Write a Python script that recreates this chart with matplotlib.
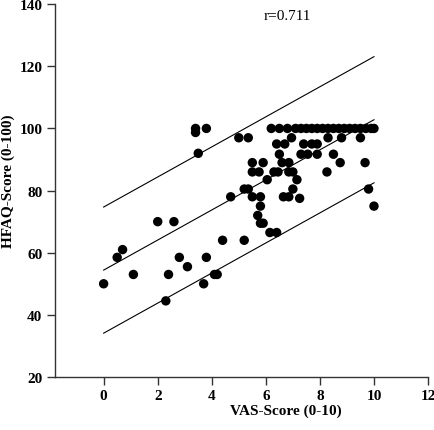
import numpy as np
import matplotlib
matplotlib.use("Agg")
import matplotlib.pyplot as plt

# VAS score vs HFAQ score
vas = [
    0.0, 0.5, 0.7, 1.1, 2.0, 2.3, 2.4, 2.6, 2.8, 3.1, 3.4, 3.4, 3.5, 3.7, 3.8,
    3.8, 4.1, 4.2, 4.4, 4.7, 5.0, 5.2, 5.2, 5.35, 5.35, 5.5, 5.5, 5.5, 5.7,
    5.75, 5.8, 5.8, 5.8, 5.9, 5.9, 6.05, 6.15, 6.2, 6.3, 6.4, 6.4, 6.5, 6.45,
    6.5, 6.6, 6.65, 6.7, 6.8, 6.85, 6.85, 6.85, 6.95, 7.0, 7.0, 7.15, 7.1,
    7.25, 7.3, 7.3, 7.4, 7.5, 7.55, 7.7, 7.7, 7.9, 7.9, 7.9, 8.1, 8.26, 8.3,
    8.3, 8.5, 8.5, 8.7, 8.75, 8.8, 8.9, 9.1, 9.3, 9.5, 9.5, 9.67, 9.7, 9.8,
    9.9, 10.0, 10.0,
]
hfaq = [
    50, 58.5, 61, 53, 70, 44.5, 53, 70, 58.5, 55.5, 100, 98.7, 92, 50, 100,
    58.5, 53, 53, 64, 78, 97, 64, 80.5, 80.5, 97, 89, 86, 78, 72, 86,
    75, 78, 69.5, 89, 69.5, 83.5, 66.5, 100, 86, 66.5, 95, 100, 86,
    91.7, 89, 78, 95, 100, 86, 78, 89, 97, 86, 80.5, 83.5, 100,
    77.5, 91.7, 100, 95, 100, 91.7, 95, 100, 91.7, 95, 100, 100, 86, 100,
    97, 100, 91.7, 100, 89, 97, 100, 100, 100, 100, 97, 89, 100, 80.5,
    100, 100, 75,
]

# regression line and prediction band
intercept = 54.4
slope = 4.84
band = 20.3
fit_range = [0, 10]
r_text = "r=0.711"

plt.rcParams['font.family'] = ['Liberation Serif', 'DejaVu Serif']

fig = plt.figure(figsize=(4.35, 4.31), dpi=100)
ax = fig.add_axes([0.1264, 0.123, 0.8576, 0.865])

ax.scatter(vas, hfaq, s=46, color='black', edgecolors='none', zorder=3)

xs = np.array(fit_range, dtype=float)
for off in (band, 0.0, -band):
    ax.plot(xs, intercept + off + slope * xs, color='black', linewidth=0.8)

ax.text(6.8, 136.5, r_text, ha='center', va='center', fontsize=11)

ax.set_xlim(-1.8, 12)
ax.set_ylim(20, 140)
ax.set_xticks(np.arange(0, 13, 2))
ax.set_yticks(np.arange(20, 141, 20))
for side in ('top', 'right'):
    ax.spines[side].set_visible(False)
for side in ('left', 'bottom'):
    ax.spines[side].set_linewidth(1.0)
    ax.spines[side].set_color('#333333')
ax.tick_params(direction='out', length=6, width=1.0, pad=3, labelsize=11,
               color='#333333')
for lbl in ax.get_xticklabels() + ax.get_yticklabels():
    lbl.set_fontweight('bold')

ax.set_xlabel('VAS-Score (0-10)', fontsize=11, fontweight='bold')
ax.set_ylabel('HFAQ-Score (0-100)', fontsize=11, fontweight='bold')
ax.xaxis.set_label_coords(0.619, -0.09)
ax.xaxis.label.set_va('center')
ax.yaxis.set_label_coords(-0.124, 0.528)
ax.yaxis.label.set_va('center')

fig.savefig('out.png', dpi=100)
